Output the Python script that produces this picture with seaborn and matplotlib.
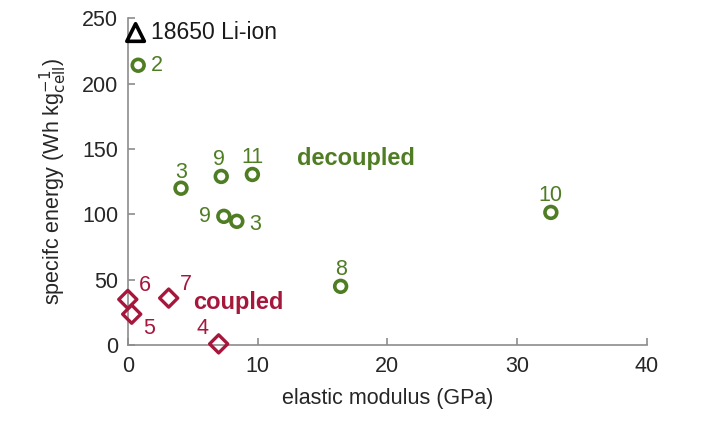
import matplotlib
matplotlib.use("Agg")
import matplotlib.pyplot as plt
import seaborn as sns
import pandas as pd

# decoupled designs (green circles)
dec_x = [0.8, 4.1, 7.2, 9.6, 7.4, 8.4, 32.6, 16.4]
dec_y = [214, 120, 129, 130.5, 98.5, 94.7, 101.5, 45]
dec_lab = ["2", "3", "9", "11", "9", "3", "10", "8"]

# coupled designs (red diamonds)
cou_x = [0.0, 0.3, 3.15, 7.0]
cou_y = [35, 23.7, 36, 1]
cou_lab = ["6", "5", "7", "4"]

# reference cell
ref_x = [0.6]
ref_y = [239]
ref_lab = ["18650 Li-ion"]

green = "#4f7d23"
red = "#a6173c"

sns.set_style("white")
plt.rcParams["font.family"] = ["Liberation Sans", "DejaVu Sans"]

fig = plt.figure(figsize=(7.14, 4.22), dpi=100)
ax = fig.add_axes([0.179, 0.182, 0.727, 0.775])

dec = pd.DataFrame({"x": dec_x, "y": dec_y})
cou = pd.DataFrame({"x": cou_x, "y": cou_y})
ref = pd.DataFrame({"x": ref_x, "y": ref_y})

sns.scatterplot(data=dec, x="x", y="y", marker="o", s=72, facecolor="none",
                edgecolor=green, linewidth=2.6, ax=ax, zorder=3, clip_on=False)
sns.scatterplot(data=cou, x="x", y="y", marker="D", s=85, facecolor="none",
                edgecolor=red, linewidth=2.4, ax=ax, zorder=3, clip_on=False)
sns.scatterplot(data=ref, x="x", y="y", marker="^", s=160, facecolor="none",
                edgecolor="black", linewidth=2.6, ax=ax, zorder=3, clip_on=False)

# label offsets in points (dx, dy, ha)
dec_off = [(9, 0, "left"), (0, 11, "center"), (-2, 12, "center"), (0, 12, "center"),
           (-9, 0, "right"), (9, -2, "left"), (0, 12, "center"), (0, 12, "center")]
cou_off = [(8, 10, "left"), (8, -10, "left"), (8, 10, "left"), (-7, 11, "right")]

fs = 15.5
for x, y, t, (dx, dy, ha) in zip(dec_x, dec_y, dec_lab, dec_off):
    ax.annotate(t, (x, y), xytext=(dx, dy), textcoords="offset points",
                ha=ha, va="center", color=green, fontsize=fs)
for x, y, t, (dx, dy, ha) in zip(cou_x, cou_y, cou_lab, cou_off):
    ax.annotate(t, (x, y), xytext=(dx, dy), textcoords="offset points",
                ha=ha, va="center", color=red, fontsize=fs)
ax.annotate(ref_lab[0], (ref_x[0], ref_y[0]), xytext=(11, 0), textcoords="offset points",
            ha="left", va="center", color="#1a1a1a", fontsize=16.5)

ax.text(13, 143, "decoupled", color=green, fontsize=17, fontweight="bold", va="center")
ax.text(5, 33, "coupled", color=red, fontsize=17, fontweight="bold", va="center")

ax.set_xlim(0, 40)
ax.set_ylim(0, 250)
ax.set_xticks([0, 10, 20, 30, 40])
ax.set_yticks([0, 50, 100, 150, 200, 250])
ax.set_xlabel("elastic modulus (GPa)", fontsize=fs, color="#262626", labelpad=8)
ax.set_ylabel(r"specifc energy (Wh kg$_{\mathrm{cell}}^{-1}$)", fontsize=fs,
              color="#262626", labelpad=9)

for s in ["top", "right"]:
    ax.spines[s].set_visible(False)
for s in ["left", "bottom"]:
    ax.spines[s].set_color("#8c8c8c")
    ax.spines[s].set_linewidth(1.2)
ax.tick_params(direction="in", length=5, width=1.2, color="#8c8c8c",
               labelsize=fs, labelcolor="#262626", left=True, bottom=True)
ax.tick_params(axis="y", pad=7)
ax.tick_params(axis="x", pad=8)

fig.savefig("out.png", dpi=100)
